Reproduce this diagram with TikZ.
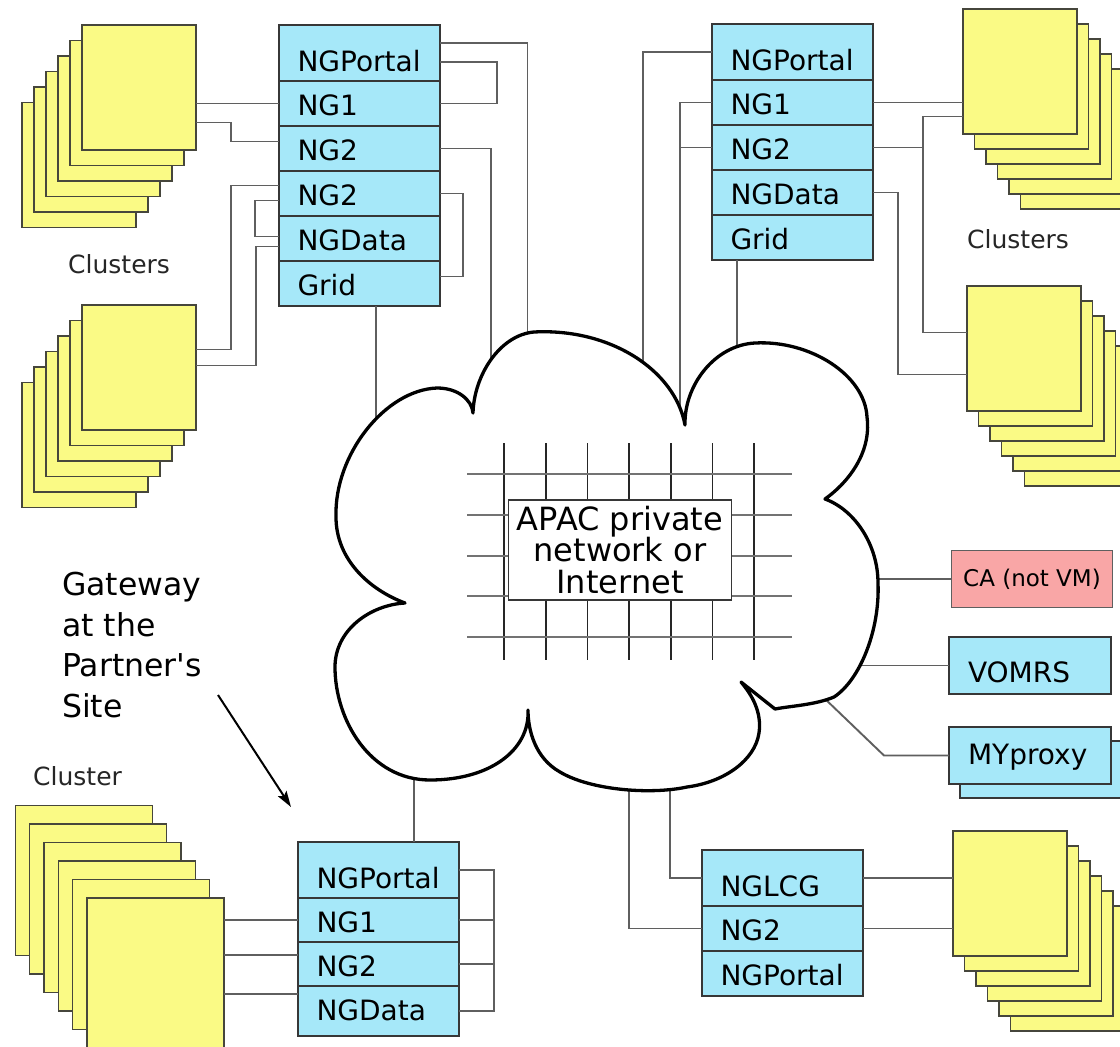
\documentclass[tikz,border=0pt]{standalone}
\usepackage{fontspec}
\setmainfont{DejaVu Sans}
\usetikzlibrary{positioning,calc,arrows.meta}

\definecolor{ngblue}{RGB}{166,232,249}
\definecolor{cardyellow}{RGB}{250,250,133}
\definecolor{capink}{RGB}{249,166,166}
\definecolor{boxline}{RGB}{55,55,55}
\definecolor{wiregray}{RGB}{95,95,95}
\definecolor{cardline}{RGB}{70,70,60}

\newcommand{\txtsize}[2]{\fontsize{#1pt}{#2pt}\selectfont}
% stack of six cluster cards, front card is #1 0
\newcommand{\clusterstack}[5]{%
  \foreach \k in {5,4,...,0}
    \node[#2, anchor=north west] (#1\k) at ($(#3)+({\k*(#4)},{\k*(#5)})$) {};
}

\tikzset{
  wire/.style={draw=wiregray, line width=1.9pt},
  card/.style={draw=cardline, fill=cardyellow, line width=1.3pt, outer sep=0pt, inner sep=0pt,
    minimum width=114pt, minimum height=125pt},
  bigcard/.style={card, minimum width=137pt, minimum height=150pt},
  ngrow/.style={draw=boxline, fill=ngblue, line width=1.6pt, outer sep=0pt,
    minimum width=161pt, minimum height=45pt, inner xsep=18.5pt, inner ysep=0pt,
    text width=124pt, align=left, text height=33pt, text depth=9pt, font=\txtsize{28}{30}},
  ngtop/.style={ngrow, minimum height=56pt, text height=45pt},
  svc/.style={draw=boxline, fill=ngblue, line width=1.3pt, outer sep=0pt,
    minimum width=162pt, minimum height=57pt, inner xsep=19pt, inner ysep=0pt,
    text width=124pt, align=left, text height=43pt, text depth=10pt, font=\txtsize{28}{30}},
  lbl/.style={inner sep=0pt, anchor=base west, text=black!85, font=\txtsize{25}{30}},
  cloudline/.style={draw=black, line width=3.3pt, fill=white, line join=round},
  gridv/.style={draw=black!85, line width=1.6pt},
  gridh/.style={draw=black!55, line width=2pt},
  netbox/.style={draw=boxline, fill=white, line width=1.5pt, minimum width=223pt, minimum height=100pt,
    inner sep=0pt, align=center, font=\txtsize{32}{31.7}},
  pointer/.style={draw=black, line width=2pt, -{Stealth[length=16pt,width=10pt,inset=3pt]}},
}

\begin{document}
\begin{tikzpicture}[x=1pt,y=-1pt]
\path[use as bounding box, fill=white] (0,0) rectangle (1120,1047);
\clip (0,0) rectangle (1120,1047);

% clusters
\clusterstack{tla}{card}{82,25}{-12}{15.5}
\clusterstack{tlb}{card}{82,305}{-12}{15.5}
\clusterstack{tra}{card}{963,9}{11.5}{15}
\clusterstack{trb}{card}{967,286}{11.5}{15}
\clusterstack{bra}{card}{953,831}{11.5}{15}
\clusterstack{bla}{bigcard}{87,898}{-14.3}{-18.5}

\node[lbl] (tl-lbl) at (68,273) {Clusters};
\node[lbl] (tr-lbl) at (967,248) {Clusters};
\node[lbl] (bl-lbl) at (33,785) {Cluster};

% gateways
\node[ngtop, anchor=north west] (tl-portal) at (279,25) {NGPortal};
\node[ngrow, below=0pt of tl-portal] (tl-ng1) {NG1};
\node[ngrow, below=0pt of tl-ng1] (tl-ng2a) {NG2};
\node[ngrow, below=0pt of tl-ng2a] (tl-ng2b) {NG2};
\node[ngrow, below=0pt of tl-ng2b] (tl-data) {NGData};
\node[ngrow, below=0pt of tl-data] (tl-grid) {Grid};

\node[ngtop, anchor=north west] (tr-portal) at (712,24) {NGPortal};
\node[ngrow, below=0pt of tr-portal] (tr-ng1) {NG1};
\node[ngrow, below=0pt of tr-ng1] (tr-ng2) {NG2};
\node[ngrow, below=0pt of tr-ng2] (tr-data) {NGData};
\node[ngrow, below=0pt of tr-data] (tr-grid) {Grid};

\node[ngtop, anchor=north west] (bl-portal) at (298,842) {NGPortal};
\node[ngrow, minimum height=44pt, below=0pt of bl-portal] (bl-ng1) {NG1};
\node[ngrow, minimum height=44pt, below=0pt of bl-ng1] (bl-ng2) {NG2};
\node[ngrow, minimum height=50pt, text height=30pt, text depth=12pt, below=0pt of bl-ng2] (bl-data) {NGData};

\node[ngtop, anchor=north west] (br-lcg) at (702,850) {NGLCG};
\node[ngrow, below=0pt of br-lcg] (br-ng2) {NG2};
\node[ngrow, below=0pt of br-ng2] (br-portal) {NGPortal};

% services
\node[draw=boxline!80, fill=capink, line width=1.3pt, minimum width=161pt, minimum height=57pt,
  font=\txtsize{23}{25}] (ca) at (1032,579) {CA (not VM)};
\node[svc, anchor=north west] (vomrs) at (949,637) {VOMRS};
\node[svc, anchor=north west] (myproxy-b) at (960,741) {};
\node[svc, anchor=north west, text height=35pt, text depth=17pt] (myproxy) at (949,727) {MYproxy};

% note
\node[inner sep=0pt, anchor=north west, align=left, font=\txtsize{31.5}{40.7}] (gw-note) at (62,572)
  {Gateway\\at the\\Partner\textquotesingle s\\Site};
\coordinate (gw-tail) at (218,695);
\coordinate (gw-tip) at (291,807);
\draw[pointer] (gw-tail) -- (gw-tip);

% ends inside the network
\coordinate (n1) at (376,425);
\coordinate (n2) at (491,370);
\coordinate (n3) at (527.5,350);
\coordinate (n4) at (643,370);
\coordinate (n5) at (680,420);
\coordinate (n6) at (737,365);
\coordinate (n7) at (870,579);
\coordinate (n8) at (850,665.5);
\coordinate (n9) at (822,696);
\coordinate (n10) at (414,770);
\coordinate (n11) at (629,785);
\coordinate (n12) at (670,780);

% top left gateway
\draw[wire] (tl-ng1.west) -- (tl-ng1.west -| tla0.east);
\draw[wire] ([yshift=7pt]tl-ng2a.west) -- ++(-48,0) |- ([yshift=-35pt]tla0.east);
\draw[wire] ([yshift=8pt]tl-ng2b.west) -- ++(-48,0) |- ([yshift=18pt]tlb0.east);
\draw[wire] ([yshift=-7pt]tl-ng2b.west) -- ++(-24,0) |- ([yshift=2pt]tl-data.west);
\draw[wire] ([yshift=-8pt]tl-data.west) -- ++(-23,0) |- ([yshift=2pt]tlb0.east);
\draw[wire] ([yshift=10pt]tl-portal.east) -| (n3);
\draw[wire] ([yshift=-9pt]tl-portal.east) -- ++(57,0) |- (tl-ng1.east);
\draw[wire] (tl-ng2a.east) -| (n2);
\draw[wire] (tl-ng2b.east) -- ++(23,0) |- ([yshift=7pt]tl-grid.east);
\draw[wire] (n1 |- tl-grid.south) -- (n1);

% top right gateway
\draw[wire] (tr-portal.west) -| (n4);
\draw[wire] (tr-ng1.west) -| (n5);
\draw[wire] (tr-ng2.west) -- (tr-ng2.west -| n5);
\draw[wire] (n6 |- tr-grid.south) -- (n6);
\draw[wire] (tr-ng1.east) -- (tr-ng1.east -| tra0.west);
\draw[wire] (tr-ng2.east) -- ++(50,0);
\draw[wire] ([yshift=-45pt]tra0.west) -- ++(-40,0) |- ([yshift=16pt]trb0.west);
\draw[wire] (tr-data.east) -- ++(25,0) |- ([yshift=-26pt]trb0.west);

% bottom gateways
\draw[wire] (n10) -- (n10 |- bl-portal.north);
\draw[wire] (bl-portal.east) -- ++(35,0) |- (bl-data.east);
\draw[wire] (bl-ng1.east) -- ++(35,0);
\draw[wire] (bl-ng2.east) -- ++(35,0);
\draw[wire] (bl-ng1.west) -- (bl-ng1.west -| bla0.east);
\draw[wire] ([yshift=9pt]bl-ng2.west) -- ([yshift=9pt]bl-ng2.west -| bla0.east);
\draw[wire] ([yshift=17pt]bl-data.west) -- ([yshift=17pt]bl-data.west -| bla0.east);
\draw[wire] (n12) |- (br-lcg.west);
\draw[wire] (n11) |- (br-ng2.west);
\draw[wire] (br-lcg.east) -- (br-lcg.east -| bra0.west);
\draw[wire] (br-ng2.east) -- (br-ng2.east -| bra0.west);

% services
\draw[wire] (n7) -- (ca.west);
\draw[wire] (n8) -- (vomrs.west);
\draw[wire] (myproxy.west) -- ++(-65,0) -- (n9);

% network cloud
\draw[cloudline] (405,603)
  .. controls (370,590) and (336,560) .. (336,517)
  .. controls (334,455) and (385,390) .. (437,388)
  .. controls (458,388) and (472,400) .. (473,413)
  .. controls (474,375) and (500,335) .. (534,332)
  .. controls (610,328) and (675,370) .. (685,425)
  .. controls (684,385) and (715,345) .. (755,343)
  .. controls (810,340) and (865,375) .. (867,417)
  .. controls (872,455) and (845,485) .. (825,499)
  .. controls (855,510) and (878,545) .. (878,583)
  .. controls (880,630) and (860,680) .. (834,697)
  .. controls (815,705) and (790,706) .. (775,709)
  -- (741,682)
  .. controls (752,695) and (762,712) .. (759,733)
  .. controls (755,760) and (725,782) .. (687,787)
  .. controls (650,795) and (590,790) .. (560,772)
  .. controls (535,758) and (528,730) .. (528,710)
  .. controls (530,750) and (490,780) .. (430,780)
  .. controls (370,780) and (335,720) .. (335,667)
  .. controls (335,630) and (370,605) .. (405,603) -- cycle;

\foreach \gx in {0,...,6}
  \draw[gridv] ({504+\gx*41.7},443) -- ++(0,217);
\foreach \gy in {0,...,4}
  \draw[gridh] (467,{474+\gy*40.8}) -- ++(325,0);

\node[netbox] (net) at (620,550) {APAC private\\network or\\Internet};
\end{tikzpicture}
\end{document}
